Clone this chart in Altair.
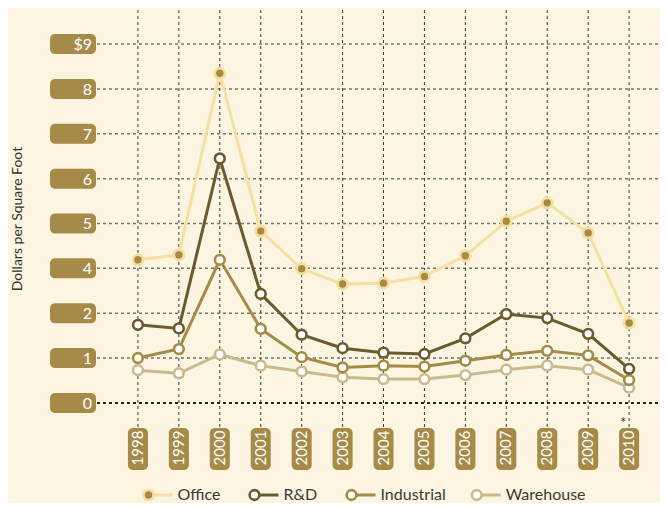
import altair as alt
import pandas as pd

# ---- data ----
years = list(range(1998, 2011))
office = [3.19, 3.30, 7.35, 3.83, 2.99, 2.65, 2.67, 2.82, 3.28, 4.05, 4.46, 3.79, 1.78]
rnd = [1.74, 1.66, 5.45, 2.43, 1.52, 1.22, 1.12, 1.09, 1.44, 1.98, 1.89, 1.54, 0.76]
industrial = [1.00, 1.20, 3.19, 1.65, 1.02, 0.79, 0.83, 0.81, 0.94, 1.07, 1.16, 1.06, 0.51]
warehouse = [0.73, 0.66, 1.08, 0.83, 0.70, 0.57, 0.53, 0.53, 0.62, 0.74, 0.83, 0.74, 0.34]

series_names = ["Office", "R&D", "Industrial", "Warehouse"]
tick_values = [0, 1, 2, 3, 4, 5, 6, 7, 8]
tick_labels = ["0", "1", "2", "4", "5", "6", "7", "8", "$9"]
year_labels = [str(y) for y in years]

# ---- styling ----
BG = "#fcf5e1"
PILL = "#a68b48"
COLORS = {"Office": "#f6dfa0", "R&D": "#6b5a2c", "Industrial": "#a48b46", "Warehouse": "#cbb98c"}
FONT = "Lato"
W, H = 563, 418

xs = alt.Scale(domain=[1997, 2010.755], nice=False, zero=False)
ys = alt.Scale(domain=[-0.56, 8.76], nice=False, zero=False)

def X(f):
    return alt.X(f, type="quantitative", scale=xs, axis=None)

def Y(f):
    return alt.Y(f, type="quantitative", scale=ys, axis=None)

ticks_df = pd.DataFrame({"v": tick_values, "label": tick_labels})
years_df = pd.DataFrame({"year": years, "label": year_labels})

series_vals = {"Office": office, "R&D": rnd, "Industrial": industrial, "Warehouse": warehouse}
long_df = pd.concat(
    [pd.DataFrame({"year": years, "value": series_vals[s], "series": s}) for s in series_names],
    ignore_index=True,
)

layers = []

# horizontal grid
layers.append(
    alt.Chart(ticks_df).transform_filter("datum.v > 0")
    .mark_rule(color="#7a7570", strokeDash=[3, 3], strokeWidth=1.5)
    .encode(y=Y("v"), x=alt.value(0), x2=alt.value(W))
)
# vertical grid
layers.append(
    alt.Chart(years_df)
    .mark_rule(color="#3a3a3a", strokeDash=[3, 3], strokeWidth=1)
    .encode(x=X("year"), y=alt.value(0), y2=alt.value(H))
)
# zero line
layers.append(
    alt.Chart(ticks_df).transform_filter("datum.v == 0")
    .mark_rule(color="#222222", strokeDash=[3, 3], strokeWidth=2)
    .encode(y=Y("v"), x=alt.value(0), x2=alt.value(W))
)

# y-axis pills
layers.append(
    alt.Chart(ticks_df)
    .transform_calculate(lo="datum.v - 0.223", hi="datum.v + 0.223")
    .mark_rect(color=PILL, cornerRadius=5)
    .encode(y=Y("lo"), y2="hi:Q", x=alt.value(-47), x2=alt.value(-1))
)
layers.append(
    alt.Chart(ticks_df)
    .mark_text(color="white", align="right", baseline="middle", font=FONT, fontSize=16, dy=1)
    .encode(y=Y("v"), x=alt.value(-5), text="label:N")
)

# x-axis pills
layers.append(
    alt.Chart(years_df)
    .transform_calculate(xlo="datum.year - 0.245", xhi="datum.year + 0.245")
    .mark_rect(color=PILL, cornerRadius=5)
    .encode(x=X("xlo"), x2="xhi:Q", y=alt.value(H), y2=alt.value(H + 42))
)
layers.append(
    alt.Chart(years_df)
    .mark_text(color="white", align="center", baseline="middle", angle=270, font=FONT, fontSize=15, dx=1)
    .encode(x=X("year"), y=alt.value(H + 21), text="label:N")
)

# series (drawn back to front)
for s in ["Warehouse", "Industrial", "R&D", "Office"]:
    sdf = long_df[long_df["series"] == s]
    c = COLORS[s]
    base = alt.Chart(sdf)
    layers.append(base.mark_line(color=c, strokeWidth=3).encode(x=X("year"), y=Y("value")))
    if s == "Office":
        layers.append(base.mark_point(shape="circle", filled=True, color=c, size=170, opacity=1)
                      .encode(x=X("year"), y=Y("value")))
        layers.append(base.mark_point(shape="circle", filled=True, color=PILL, size=55, opacity=1)
                      .encode(x=X("year"), y=Y("value")))
    else:
        layers.append(base.mark_point(shape="circle", filled=True, fill="white", stroke=c,
                                      strokeWidth=2.6, size=95, opacity=1)
                      .encode(x=X("year"), y=Y("value")))

# asterisk for 2010
layers.append(
    alt.Chart(pd.DataFrame({"year": [2010], "t": ["*"]}))
    .mark_text(color="#444444", fontSize=15, font=FONT, dx=-6)
    .encode(x=X("year"), y=alt.value(H - 5), text="t:N")
)

# y title
layers.append(
    alt.Chart(pd.DataFrame({"t": ["Dollars per Square Foot"]}))
    .mark_text(color="#333333", fontSize=14, font=FONT, angle=270, align="center", baseline="middle")
    .encode(x=alt.value(-79), y=alt.value(209), text="t:N")
)

# legend (manual)
leg_y = H + 67
leg_pos = {"Office": 51.5, "R&D": 157.5, "Industrial": 254.5, "Warehouse": 379.7}
for s in series_names:
    c = COLORS[s]
    cx = leg_pos[s]
    ldf = pd.DataFrame({"t": [s]})
    layers.append(alt.Chart(ldf).mark_rule(color=c, strokeWidth=3)
                  .encode(x=alt.value(cx + 4), x2=alt.value(cx + 24), y=alt.value(leg_y)))
    if s == "Office":
        layers.append(alt.Chart(ldf).mark_point(shape="circle", filled=True, color=c, size=170, opacity=1)
                      .encode(x=alt.value(cx), y=alt.value(leg_y)))
        layers.append(alt.Chart(ldf).mark_point(shape="circle", filled=True, color=PILL, size=55, opacity=1)
                      .encode(x=alt.value(cx), y=alt.value(leg_y)))
    else:
        layers.append(alt.Chart(ldf).mark_point(shape="circle", filled=True, fill="white", stroke=c,
                                                strokeWidth=2.6, size=95, opacity=1)
                      .encode(x=alt.value(cx), y=alt.value(leg_y)))
    layers.append(alt.Chart(ldf).mark_text(color="#3b3a36", fontSize=16, font=FONT, align="left",
                                           baseline="middle")
                  .encode(x=alt.value(cx + 29), y=alt.value(leg_y), text="t:N"))

chart = (
    alt.layer(*layers)
    .properties(width=W, height=H, background=BG, autosize="none",
                padding={"left": 89, "top": 2, "right": 0, "bottom": 75})
    .configure_view(stroke=None)
)

chart.save("out.html", embed_options={"renderer": "svg", "actions": False})
